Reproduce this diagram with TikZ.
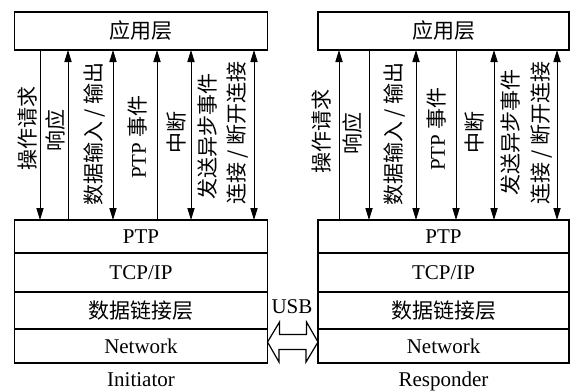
\documentclass[tikz,border=0pt]{standalone}
\usepackage{fontspec}
\setmainfont{Liberation Serif}
\newfontfamily\cjk{Noto Sans CJK SC}
\usetikzlibrary{arrows.meta,positioning}

\begin{document}
\begin{tikzpicture}[
  x=0.5pt, y=-0.5pt,
  font=\fontsize{10.5}{12}\selectfont,
  appbox/.style={draw, line width=0.6pt, minimum height=19pt, inner sep=0pt,
                 outer sep=0pt},
  layer/.style={draw, line width=0.6pt, inner sep=0pt, outer sep=0pt},
  vlabel/.style={rotate=90, inner sep=0pt, font=\fontsize{10.5}{12}\selectfont\cjk},
  arrow/.style={line width=0.5pt},
  tipdown/.style={-{Triangle[length=6pt,width=3.6pt]}},
  tipup/.style={{Triangle[length=6pt,width=3.6pt]}-},
  tipboth/.style={{Triangle[length=6pt,width=3.6pt]}-{Triangle[length=6pt,width=3.6pt]}},
  usbarrow/.style={draw, line width=0.6pt, line join=miter}
]
  \useasboundingbox (0,0) rectangle (576,391);

  % Initiator
  \node[appbox, minimum width=126.5pt] (appL) at (141,31) {\cjk 应用层};
  \node[layer, minimum width=126.5pt, minimum height=16.5pt, anchor=north] (ptpL) at (141,220) {PTP};
  \node[layer, minimum width=126.5pt, minimum height=19.5pt, below=0pt of ptpL] (tcpL) {TCP/IP};
  \node[layer, minimum width=126.5pt, minimum height=18.5pt, below=0pt of tcpL] (linkL) {\cjk 数据链接层};
  \node[layer, minimum width=126.5pt, minimum height=17pt, below=0pt of linkL] (netL) {Network};
  \node[below=4.5pt of netL, inner sep=0pt] (initiator) {Initiator};

  % Responder
  \node[appbox, minimum width=125.5pt] (appR) at (443.5,31) {\cjk 应用层};
  \node[layer, minimum width=125.5pt, minimum height=16.5pt, anchor=north] (ptpR) at (443.5,220) {PTP};
  \node[layer, minimum width=125.5pt, minimum height=19.5pt, below=0pt of ptpR] (tcpR) {TCP/IP};
  \node[layer, minimum width=125.5pt, minimum height=18.5pt, below=0pt of tcpR] (linkR) {\cjk 数据链接层};
  \node[layer, minimum width=125.5pt, minimum height=17pt, below=0pt of linkR] (netR) {Network};
  \node[below=4.5pt of netR, inner sep=0pt] (responder) {Responder};

  % service primitives
  \foreach \d/\tip in {12.75/tipdown,26.75/tipup,49.25/tipboth,71.25/tipup,88.25/tipboth,119.75/tipboth}
    \draw[arrow,\tip] ([xshift=\d pt]appL.south west) -- ([xshift=\d pt]ptpL.north west);
  \foreach \d/\tip in {10.5/tipup,25.5/tipdown,49/tipboth,69/tipdown,88/tipboth,119.5/tipboth}
    \draw[arrow,\tip] ([xshift=\d pt]appR.south west) -- ([xshift=\d pt]ptpR.north west);

  \node[vlabel] (opL) at (28,128) {操作请求};
  \node[vlabel] (ackL) at (56,130) {响应};
  \node[vlabel] (ioL) at (95,134) {数据输入 / 输出};
  \node[vlabel] (evL) at (138,137) {\rmfamily PTP \cjk 事件};
  \node[vlabel] (intL) at (177,132) {中断};
  \node[vlabel] (asyL) at (208,136) {发送异步事件};
  \node[vlabel] (conL) at (238,133) {连接 / 断开连接};

  \node[vlabel] (opR) at (322,131) {操作请求};
  \node[vlabel] (ackR) at (353,133) {响应};
  \node[vlabel] (ioR) at (395,134) {数据输入 / 输出};
  \node[vlabel] (evR) at (437,129) {\rmfamily PTP \cjk 事件};
  \node[vlabel] (intR) at (475,132) {中断};
  \node[vlabel] (asyR) at (510,132) {发送异步事件};
  \node[vlabel] (conR) at (542,133) {连接 / 断开连接};

  % USB link
  \node[inner sep=0pt] (usb) at (292,307) {USB};
  \draw[usbarrow] ([yshift=2pt]netL.east) -- ++(12,-20) -- ++(0,12.5) -- ++(27,0)
    -- ++(0,-12.5) -- ([yshift=2pt]netR.west) -- ++(-12,20) -- ++(0,-12.5)
    -- ++(-27,0) -- ++(0,12.5) -- cycle;
\end{tikzpicture}
\end{document}
